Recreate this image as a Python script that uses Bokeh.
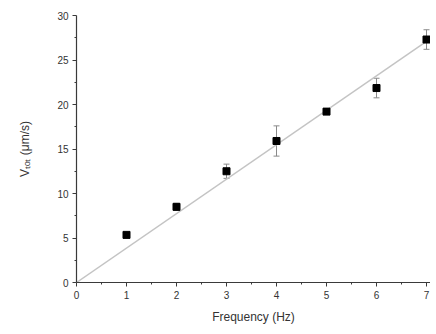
import numpy as np
from bokeh.plotting import figure
from bokeh.models import ColumnDataSource, Whisker, TeeHead, FixedTicker, Range1d
from bokeh.embed import file_html
from bokeh.resources import INLINE

freq = [1, 2, 3, 4, 5, 6, 7]
vtot = [5.35, 8.5, 12.5, 15.9, 19.2, 21.85, 27.3]
verr = [0.3, 0.4, 0.8, 1.7, 0.3, 1.1, 1.1]
x_ticks = [0, 1, 2, 3, 4, 5, 6, 7]
y_ticks = [0, 5, 10, 15, 20, 25, 30]

FONT = "Liberation Sans"
AX = "#3a3a3a"

x = np.array(freq, dtype=float)
y = np.array(vtot, dtype=float)
e = np.array(verr, dtype=float)
slope = float((x * y).sum() / (x * x).sum())

p = figure(width=430, height=326, output_backend="svg", toolbar_location=None,
           x_range=Range1d(0, 7.08), y_range=Range1d(0, 30),
           min_border_left=76, min_border_right=0, min_border_top=15, min_border_bottom=42)
p.outline_line_color = None
p.grid.visible = False
p.background_fill_color = "white"
p.border_fill_color = "white"

# fit line through origin
p.line([0, max(freq)], [0, slope * max(freq)], line_color="#c4c4c4", line_width=1.5)

src = ColumnDataSource(dict(x=freq, y=vtot, lo=list(y - e), hi=list(y + e)))
w = Whisker(source=src, base="x", lower="lo", upper="hi", line_color="#8a8a8a", line_width=1,
            upper_head=TeeHead(size=6, line_color="#8a8a8a", line_width=1),
            lower_head=TeeHead(size=6, line_color="#8a8a8a", line_width=1))
p.add_layout(w)
p.scatter("x", "y", source=src, marker="square", size=7, fill_color="black", line_color="black")

for ax in (p.xaxis[0], p.yaxis[0]):
    ax.axis_line_color = AX
    ax.axis_line_width = 1.2
    ax.major_tick_line_color = AX
    ax.minor_tick_line_color = AX
    ax.major_tick_out = 4
    ax.major_tick_in = 0
    ax.minor_tick_out = 2
    ax.minor_tick_in = 0
    ax.major_label_text_font = FONT
    ax.major_label_text_font_size = "10px"
    ax.major_label_text_color = "#333333"
    ax.axis_label_text_font = FONT
    ax.axis_label_text_font_style = "normal"
    ax.axis_label_text_color = "#333333"
    ax.axis_label_text_font_size = "12px"

p.xaxis.ticker = FixedTicker(ticks=x_ticks, minor_ticks=[v + 0.5 for v in x_ticks[:-1]])
p.yaxis.ticker = FixedTicker(ticks=y_ticks, minor_ticks=[v + 2.5 for v in y_ticks[:-1]])
p.xaxis.axis_label = "Frequency (Hz)"
p.yaxis.axis_label = "V\u209c\u2092\u209c (\u03bcm/s)"
p.xaxis.axis_label_standoff = 8
p.yaxis.axis_label_standoff = 22
p.xaxis.major_label_standoff = 4
p.yaxis.major_label_standoff = 4

open("out.html", "w").write(file_html(p, INLINE))
